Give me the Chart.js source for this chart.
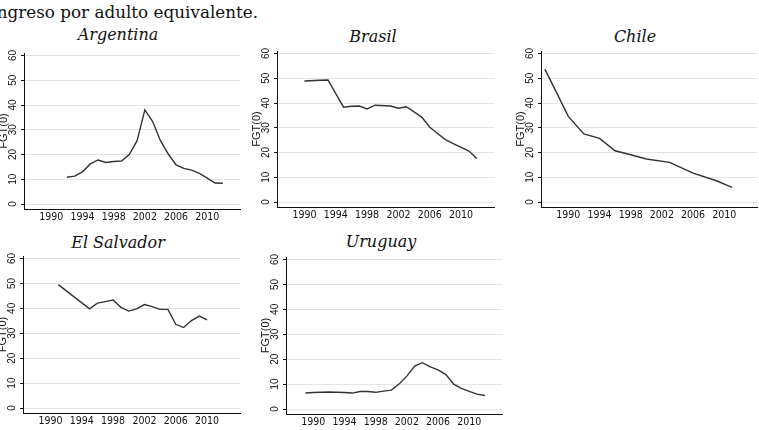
<!DOCTYPE html>
<html>
<head>
<meta charset="utf-8">
<script src="https://cdn.jsdelivr.net/npm/chart.js@4.4.0/dist/chart.umd.min.js"></script>
<style>
  body { margin: 0; background: #fff; width: 759px; height: 430px; overflow: hidden; position: relative; font-family: "DejaVu Serif", serif; color: #111; }
  canvas { position: absolute; }
  .ttl { position: absolute; font-style: italic; font-size: 16px; line-height: 20px; transform: translateX(-50%); white-space: nowrap; }
  #head { position: absolute; top: 2px; right: 501px; font-size: 16.8px; line-height: 20px; white-space: nowrap; }
</style>
</head>
<body>
<div id="head">Ingreso por adulto equivalente.</div>

<div class="ttl" style="left:118px; top:25px">Argentina</div>
<div class="ttl" style="left:373px; top:27px">Brasil</div>
<div class="ttl" style="left:635px; top:27px">Chile</div>
<div class="ttl" style="left:118px; top:233px">El Salvador</div>
<div class="ttl" style="left:381px; top:232px">Uruguay</div>

<canvas id="argentina" width="253" height="182" style="left:-10px; top:45px"></canvas>
<canvas id="brasil" width="254" height="182" style="left:243px; top:43px"></canvas>
<canvas id="chile" width="253" height="182" style="left:507px; top:43px"></canvas>
<canvas id="salvador" width="254" height="183" style="left:-11px; top:248px"></canvas>
<canvas id="uruguay" width="253" height="183" style="left:252px; top:249px"></canvas>

<script>
// FGT(0) por país y año
const argYears = [1992, 1993, 1994, 1995, 1996, 1997, 1998, 1999, 2000, 2001, 2002, 2003, 2004, 2005, 2006, 2007, 2008, 2009, 2010, 2011, 2012];
const argFgt = [10.8, 11.3, 13.0, 16.2, 17.8, 16.8, 17.2, 17.4, 20.0, 25.6, 38.0, 33.3, 25.6, 20.2, 15.8, 14.4, 13.7, 12.4, 10.5, 8.5, 8.4];

const braYears = [1990, 1992, 1993, 1995, 1996, 1997, 1998, 1999, 2001, 2002, 2003, 2004, 2005, 2006, 2007, 2008, 2009, 2011, 2012];
const braFgt = [48.9, 49.2, 49.3, 38.3, 38.7, 38.8, 37.6, 39.1, 38.8, 37.9, 38.5, 36.4, 34.2, 30.2, 27.7, 25.2, 23.6, 20.6, 17.6];

const chiYears = [1987, 1990, 1992, 1994, 1996, 1998, 2000, 2003, 2006, 2009, 2011];
const chiFgt = [53.7, 34.6, 27.5, 25.7, 20.7, 19.1, 17.4, 16.0, 11.7, 8.6, 5.9];

const slvYears = [1991, 1995, 1996, 1997, 1998, 1999, 2000, 2001, 2002, 2003, 2004, 2005, 2006, 2007, 2008, 2009, 2010];
const slvFgt = [49.5, 39.8, 42.1, 42.7, 43.3, 40.4, 38.9, 39.8, 41.5, 40.7, 39.6, 39.6, 33.6, 32.3, 35.1, 36.9, 35.4];

const uryYears = [1989, 1990, 1991, 1992, 1993, 1994, 1995, 1996, 1997, 1998, 1999, 2000, 2001, 2002, 2003, 2004, 2005, 2006, 2007, 2008, 2009, 2010, 2011, 2012];
const uryFgt = [6.4, 6.6, 6.7, 6.8, 6.7, 6.6, 6.4, 7.0, 7.0, 6.7, 7.2, 7.6, 10.0, 13.2, 17.2, 18.6, 16.9, 15.7, 13.8, 10.0, 8.3, 7.1, 6.0, 5.4];

const xTicks = [1990, 1994, 1998, 2002, 2006, 2010];
const yTicks = [0, 10, 20, 30, 40, 50, 60];

const xTickFont = { family: '"DejaVu Sans Condensed", "Liberation Sans", Arial, sans-serif', size: 10.5 };
const yTickFont = { family: '"Liberation Sans", Arial, sans-serif', size: 10 };
const axisColor = '#111';

function createPanel(elementId, years, values) {
  const ctx = document.getElementById(elementId).getContext('2d');

  new Chart(ctx, {
    type: 'line',
    data: {
      datasets: [{
        data: years.map((year, i) => ({ x: year, y: values[i] })),
        borderColor: '#333',
        borderWidth: 1.4,
        pointRadius: 0,
        tension: 0,
        fill: false
      }]
    },
    options: {
      responsive: false,
      animation: false,
      events: [],
      layout: { padding: { top: 8, right: 3, left: 0, bottom: 0 } },
      plugins: {
        legend: { display: false },
        tooltip: { enabled: false }
      },
      scales: {
        x: {
          type: 'linear',
          min: 1986.5,
          max: 2014.2,
          afterBuildTicks: scale => { scale.ticks = xTicks.map(v => ({ value: v })); },
          afterFit: scale => { scale.height = 18; },
          grid: { display: false, drawTicks: false },
          border: { color: axisColor, width: 1 },
          ticks: {
            padding: 2,
            color: axisColor,
            font: xTickFont,
            maxRotation: 0,
            autoSkip: false,
            callback: v => String(v)
          }
        },
        y: {
          min: -2,
          max: 61,
          afterBuildTicks: scale => { scale.ticks = yTicks.map(v => ({ value: v })); },
          afterFit: scale => { scale.width = 34; },
          grid: { color: '#e4e4e4', lineWidth: 1, tickColor: axisColor, tickLength: 3 },
          border: { color: axisColor, width: 1 },
          ticks: {
            minRotation: 90,
            maxRotation: 90,
            crossAlign: 'center',
            padding: 2,
            color: axisColor,
            font: yTickFont,
            callback: v => String(v)
          },
          title: {
            display: true,
            text: 'FGT(0)',
            color: axisColor,
            font: { family: '"Liberation Sans", Arial, sans-serif', size: 11 },
            padding: { top: 7, bottom: 0 }
          }
        }
      }
    }
  });
}

createPanel('argentina', argYears, argFgt);
createPanel('brasil', braYears, braFgt);
createPanel('chile', chiYears, chiFgt);
createPanel('salvador', slvYears, slvFgt);
createPanel('uruguay', uryYears, uryFgt);
</script>
</body>
</html>
